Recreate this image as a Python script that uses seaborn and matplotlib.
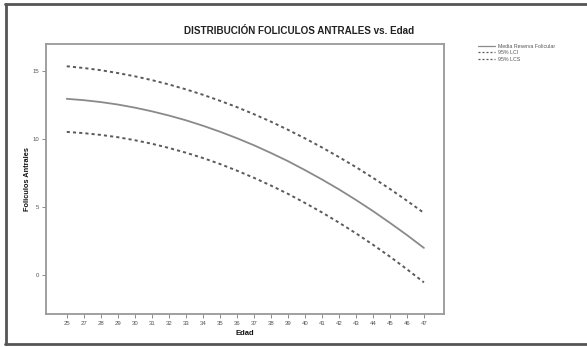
import matplotlib
matplotlib.use("Agg")
import matplotlib.pyplot as plt
from matplotlib.lines import Line2D
import pandas as pd
import seaborn as sns

# Age categories shown on the x axis (26 has no observations)
edad = ["25", "27", "28", "29", "30", "31", "32", "33", "34", "35", "36",
        "37", "38", "39", "40", "41", "42", "43", "44", "45", "46", "47"]

# Fitted mean antral follicle count and its 95% limits
media = [12.96, 12.86, 12.72, 12.54, 12.31, 12.04, 11.73, 11.38, 10.98, 10.54, 10.06,
         9.54, 8.97, 8.37, 7.71, 7.02, 6.29, 5.51, 4.69, 3.82, 2.92, 1.97]
lcs = [15.36, 15.23, 15.07, 14.86, 14.62, 14.34, 14.02, 13.66, 13.26, 12.82, 12.35,
       11.83, 11.28, 10.68, 10.05, 9.38, 8.67, 7.93, 7.14, 6.32, 5.45, 4.55]
lci = [10.52, 10.43, 10.30, 10.13, 9.91, 9.65, 9.34, 8.99, 8.60, 8.16, 7.67,
       7.14, 6.57, 5.96, 5.29, 4.59, 3.84, 3.05, 2.21, 1.33, 0.40, -0.57]

y_ticks = [0, 5, 10, 15]

sns.set_theme(style="white")
plt.rcParams["font.family"] = ["Liberation Sans", "DejaVu Sans"]

df = pd.DataFrame({"Edad": edad, "media": media, "lci": lci, "lcs": lcs})

fig = plt.figure(figsize=(5.87, 3.47), dpi=100)
ax = fig.add_axes([46 / 587, 1 - 314 / 347, (444 - 46) / 587, (314 - 44) / 347])

dash = (0, (1.6, 1.6))
sns.lineplot(data=df, x="Edad", y="media", ax=ax, color="#8a8a8a", linewidth=1.3,
             label="Media Reserva Folicular", legend=False)
sns.lineplot(data=df, x="Edad", y="lci", ax=ax, color="#5a5a5a", linewidth=1.4,
             linestyle=dash, label="95% LCI", legend=False)
sns.lineplot(data=df, x="Edad", y="lcs", ax=ax, color="#5a5a5a", linewidth=1.4,
             linestyle=dash, label="95% LCS", legend=False)

ax.set_xlim(-1.22, 22.18)
ax.set_ylim(-2.9, 17.0)
ax.set_yticks(y_ticks)
ax.set_yticklabels([str(v) for v in y_ticks])

for s in ax.spines.values():
    s.set_color("#999999")
    s.set_linewidth(1.3)

ax.tick_params(axis="both", which="major", length=3, width=0.6, color="#777777",
               labelsize=4.3, labelcolor="#555555", pad=2, direction="out",
               bottom=True, left=True)

ax.set_xlabel("Edad", fontsize=5.5, fontweight="bold", color="#111111", labelpad=3)
ax.set_ylabel("Foliculos Antrales", fontsize=5.3, fontweight="bold", color="#111111",
              labelpad=1)

fig.text(299 / 587, 1 - 31 / 347, "DISTRIBUCIÓN FOLICULOS ANTRALES vs. Edad",
         ha="center", va="center", fontsize=7.1, fontweight="bold", color="#222222")

handles, labels = ax.get_legend_handles_labels()
leg = fig.legend(handles, labels, loc="upper left",
                 bbox_to_anchor=(478 / 587, 1 - 44 / 347), frameon=False,
                 fontsize=3.8, handlelength=3.2, handletextpad=0.6,
                 labelspacing=0.25, borderaxespad=0, borderpad=0)
for t in leg.get_texts():
    t.set_color("#555555")
for h in leg.get_lines():
    h.set_linewidth(0.9)

# Outer page frame
frame_kw = dict(transform=fig.transFigure, color="#555555", linewidth=2.0)
fig.add_artist(Line2D([5 / 587, 1], [1 - 4 / 347, 1 - 4 / 347], **frame_kw))
fig.add_artist(Line2D([6 / 587, 6 / 587], [1 - 4 / 347, 3 / 347], **frame_kw))
fig.add_artist(Line2D([5 / 587, 1], [3 / 347, 3 / 347], **frame_kw))

fig.savefig("out.png", dpi=100)
